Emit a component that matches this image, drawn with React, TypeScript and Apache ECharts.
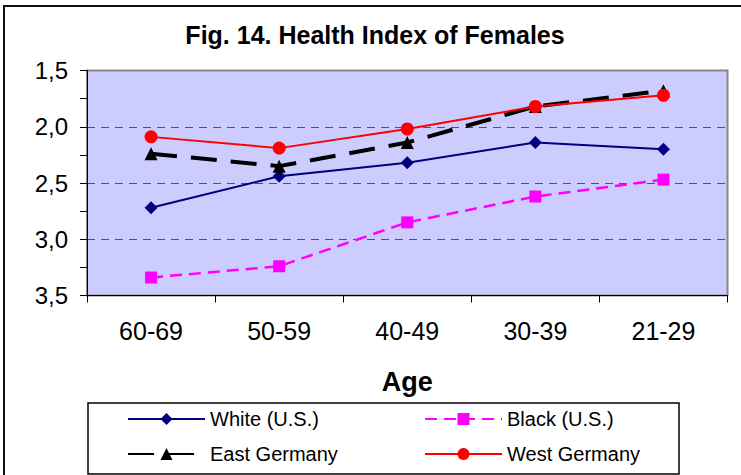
import React, { useEffect, useRef } from "react";
import * as echarts from "echarts";

const categories = ["60-69", "50-59", "40-49", "30-39", "21-29"];
const whiteUS = [2.72, 2.44, 2.32, 2.14, 2.2];
const blackUS = [3.34, 3.24, 2.85, 2.62, 2.47];
const eastGermany = [2.24, 2.35, 2.14, 1.82, 1.68];
const westGermany = [2.09, 2.19, 2.02, 1.82, 1.72];
const yTicks = { min: 1.5, max: 3.5, interval: 0.5 };

const FONT = "'Liberation Sans', Arial, sans-serif";

export default function App() {
  const ref = useRef<HTMLDivElement>(null);
  useEffect(() => {
    if (!ref.current) return;
    const chart = echarts.init(ref.current, undefined, { renderer: "svg" });
    chart.setOption({
      animation: false,
      backgroundColor: "#ffffff",
      textStyle: { fontFamily: FONT },
      graphic: [
        {
          type: "rect",
          shape: { x: 4, y: 6, width: 800, height: 600 },
          style: { fill: "none", stroke: "#111", lineWidth: 2 },
          z: 100,
          silent: true,
        },
        {
          type: "text",
          x: 375,
          y: 22,
          style: {
            text: "Fig. 14. Health Index of Females",
            fontFamily: FONT,
            fontSize: 25,
            fontWeight: "bold",
            fill: "#000",
            align: "center",
            verticalAlign: "top",
          },
        },
        {
          type: "rect",
          shape: { x: 88, y: 403, width: 591, height: 71 },
          style: { fill: "#fff", stroke: "#000", lineWidth: 1.5 },
          z: 0,
          silent: true,
        },
      ],
      grid: {
        left: 87,
        top: 70.5,
        right: 13.5,
        bottom: 179.5,
        show: true,
        backgroundColor: "#CCCCFF",
        borderColor: "#888888",
        borderWidth: 2,
      },
      legend: [
        {
          data: ["White (U.S.)", "East Germany"],
          orient: "vertical",
          left: 122,
          top: 404,
          itemWidth: 77,
          itemHeight: 15,
          itemGap: 15,
          textStyle: { fontFamily: FONT, fontSize: 20, color: "#000", lineHeight: 20 },
          z: 5,
        },
        {
          data: ["Black (U.S.)", "West Germany"],
          orient: "vertical",
          left: 419,
          top: 404,
          itemWidth: 77,
          itemHeight: 15,
          itemGap: 15,
          textStyle: { fontFamily: FONT, fontSize: 20, color: "#000", lineHeight: 20 },
          z: 5,
        },
      ],
      xAxis: {
        type: "category",
        data: categories,
        boundaryGap: true,
        name: "Age",
        nameLocation: "middle",
        nameGap: 73,
        nameTextStyle: { fontFamily: FONT, fontSize: 27, fontWeight: "bold", color: "#000" },
        axisLine: { lineStyle: { color: "#000", width: 1 } },
        axisTick: { show: true, length: 7, lineStyle: { color: "#000" } },
        axisLabel: { fontFamily: FONT, fontSize: 25, color: "#000", margin: 23 },
        splitLine: { show: false },
      },
      yAxis: {
        type: "value",
        inverse: true,
        min: yTicks.min,
        max: yTicks.max,
        interval: yTicks.interval,
        axisLine: { show: true, lineStyle: { color: "#000", width: 1 } },
        axisTick: { show: true, length: 7, lineStyle: { color: "#000" } },
        minorTick: { show: true, splitNumber: 2, length: 7, lineStyle: { color: "#000" } },
        axisLabel: {
          fontFamily: FONT,
          fontSize: 24,
          color: "#000",
          margin: 19,
          formatter: (v: number) => v.toFixed(1).replace(".", ","),
        },
        splitLine: {
          show: true,
          showMinLine: false,
          showMaxLine: false,
          lineStyle: { color: "#555", width: 1, type: [8, 6] },
        },
      },
      series: [
        {
          name: "White (U.S.)",
          type: "line",
          data: whiteUS,
          symbol: "diamond",
          symbolSize: 13,
          itemStyle: { color: "#000080" },
          lineStyle: { color: "#000080", width: 2, type: "solid" },
        },
        {
          name: "Black (U.S.)",
          type: "line",
          data: blackUS,
          symbol: "rect",
          symbolSize: 12,
          itemStyle: { color: "#FF00FF" },
          lineStyle: { color: "#FF00FF", width: 2.5, type: [12, 7] },
        },
        {
          name: "East Germany",
          type: "line",
          data: eastGermany,
          symbol: "triangle",
          symbolSize: 13,
          itemStyle: { color: "#000000" },
          lineStyle: { color: "#000000", width: 4, type: [26, 14] },
        },
        {
          name: "West Germany",
          type: "line",
          data: westGermany,
          symbol: "circle",
          symbolSize: 13,
          itemStyle: { color: "#FF0000" },
          lineStyle: { color: "#FF0000", width: 2, type: "solid" },
        },
      ],
    });
    return () => chart.dispose();
  }, []);
  return (
    <div
      ref={ref}
      style={{ position: "absolute", left: 0, top: 0, width: 741, height: 475 }}
    />
  );
}
